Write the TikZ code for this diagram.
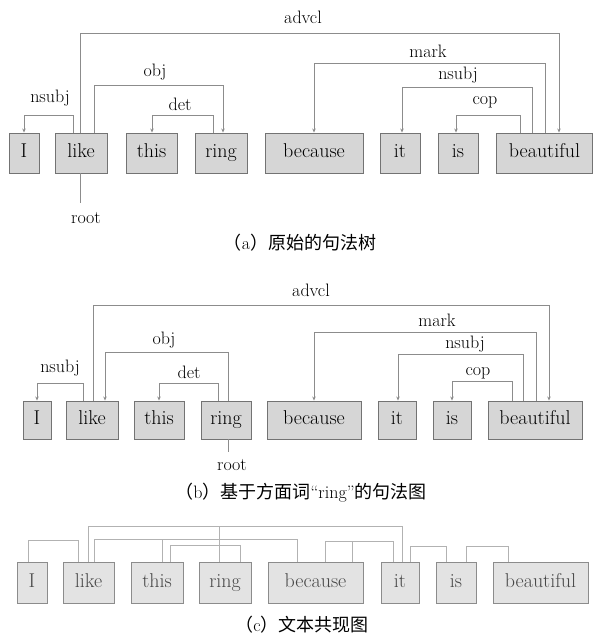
\documentclass[tikz,border=0pt]{standalone}
\usepackage{fontspec}
\newfontfamily\cjk{Noto Sans CJK SC}
\usetikzlibrary{arrows.meta}
\newcommand\depline[5]{\draw[arr] ([xshift=#2pt]#1.north) -- ++(0,-#3) -| ([xshift=#5pt]#4.north);}
\newcommand\coline[5]{\draw[cline] ([xshift=#2pt]#1.north) -- ++(0,-#3) -| ([xshift=#5pt]#4.north);}
\begin{document}
\begin{tikzpicture}[x=1pt,y=-1pt,
 wbox/.style={draw=black!55, line width=0.9pt, fill=black!16, inner sep=0pt,
   text height=13pt, text depth=4pt, font=\fontsize{20}{22}\selectfont},
 cbox/.style={wbox, draw=black!45, fill=black!11, text=black!72},
 lbl/.style={font=\fontsize{18}{20}\selectfont, inner sep=0pt},
 arr/.style={draw=black!45, line width=0.8pt, -{Stealth[length=4pt,width=3.5pt]}},
 plain/.style={draw=black!45, line width=0.8pt},
 cline/.style={draw=black!30, line width=0.8pt},
 captext/.style={font=\fontsize{18}{20}\selectfont, inner sep=0pt}]
\useasboundingbox[fill=white] (0,0) rectangle (594,637);

% ---------- (a) ----------
\node[wbox, minimum width=30pt, minimum height=40pt] (aI) at (24,153) {I};
\node[wbox, minimum width=52pt, minimum height=40pt] (aLike) at (81,153) {like};
\node[wbox, minimum width=51pt, minimum height=40pt] (aThis) at (151.5,153) {this};
\node[wbox, minimum width=52pt, minimum height=40pt] (aRing) at (221,153) {ring};
\node[wbox, minimum width=98pt, minimum height=40pt] (aBec) at (314,153) {because};
\node[wbox, minimum width=40pt, minimum height=40pt] (aIt) at (400,153) {it};
\node[wbox, minimum width=40pt, minimum height=40pt] (aIs) at (458,153) {is};
\node[wbox, minimum width=96pt, minimum height=40pt] (aBeau) at (544.5,153) {beautiful};

\depline{aLike}{-1}{99}{aBeau}{14.5}
\depline{aLike}{-8}{17}{aI}{0}
\depline{aLike}{13}{47}{aRing}{2}
\depline{aRing}{-8}{17}{aThis}{0.5}
\depline{aBeau}{0.5}{69}{aBec}{0}
\depline{aBeau}{-12.5}{45}{aIt}{2}
\depline{aBeau}{-24.5}{17}{aIs}{-2}
\coordinate (aRoot) at (80,203);
\draw[plain] ([xshift=-1pt]aLike.south) -- (aRoot);

\node[lbl] (aLadvcl) at (303,17) {advcl};
\node[lbl] (aLnsubj) at (50,98) {nsubj};
\node[lbl] (aLobj) at (155,72) {obj};
\node[lbl] (aLdet) at (180,104) {det};
\node[lbl] (aLmark) at (428,51) {mark};
\node[lbl] (aLnsubjb) at (458,75) {nsubj};
\node[lbl] (aLcop) at (485,102) {cop};
\node[lbl] (aLroot) at (86,218) {root};
\node[captext] (capA) at (300,243) {{\cjk （}a{\cjk ）原始的句法树}};

% ---------- (b) ----------
\node[wbox, minimum width=28pt, minimum height=38pt] (bI) at (37,420) {I};
\node[wbox, minimum width=52pt, minimum height=38pt] (bLike) at (92,420) {like};
\node[wbox, minimum width=50pt, minimum height=38pt] (bThis) at (159,420) {this};
\node[wbox, minimum width=50pt, minimum height=38pt] (bRing) at (226,420) {ring};
\node[wbox, minimum width=94pt, minimum height=38pt] (bBec) at (314,420) {because};
\node[wbox, minimum width=38pt, minimum height=38pt] (bIt) at (397,420) {it};
\node[wbox, minimum width=38pt, minimum height=38pt] (bIs) at (452,420) {is};
\node[wbox, minimum width=94pt, minimum height=38pt] (bBeau) at (535,420) {beautiful};

\depline{bLike}{1}{95}{bBeau}{14}
\depline{bRing}{2}{48}{bLike}{13}
\depline{bLike}{-9}{17}{bI}{0}
\depline{bRing}{-8}{17}{bThis}{0}
\depline{bBeau}{1}{68}{bBec}{0}
\depline{bBeau}{-12}{46}{bIt}{1}
\depline{bBeau}{-23}{19}{bIs}{0}
\coordinate (bRoot) at (228,452);
\draw[plain] ([xshift=2pt]bRing.south) -- (bRoot);

\node[lbl] (bLadvcl) at (311,290) {advcl};
\node[lbl] (bLobj) at (164,340) {obj};
\node[lbl] (bLnsubj) at (60,368) {nsubj};
\node[lbl] (bLdet) at (189,372) {det};
\node[lbl] (bLmark) at (437,320) {mark};
\node[lbl] (bLnsubjb) at (465,344) {nsubj};
\node[lbl] (bLcop) at (478,373) {cop};
\node[lbl] (bLroot) at (232,465) {root};
\node[captext] (capB) at (301,493) {{\cjk （}b{\cjk ）基于方面词}“ring”{\cjk 的句法图}};

% ---------- (c) ----------
\node[cbox, minimum width=30pt, minimum height=41pt] (cI) at (32,582.5) {I};
\node[cbox, minimum width=51pt, minimum height=41pt] (cLike) at (88.5,582.5) {like};
\node[cbox, minimum width=52pt, minimum height=41pt] (cThis) at (157,582.5) {this};
\node[cbox, minimum width=52pt, minimum height=41pt] (cRing) at (225,582.5) {ring};
\node[cbox, minimum width=95pt, minimum height=41pt] (cBec) at (315.5,582.5) {because};
\node[cbox, minimum width=38pt, minimum height=41pt] (cIt) at (400,582.5) {it};
\node[cbox, minimum width=40pt, minimum height=41pt] (cIs) at (456,582.5) {is};
\node[cbox, minimum width=95pt, minimum height=41pt] (cBeau) at (540.5,582.5) {beautiful};

\coline{cI}{-4}{21}{cLike}{-10.5}
\coline{cLike}{-0.5}{35}{cIt}{2}
\draw[cline] ([xshift=-6pt]cRing.north) -- ++(0,-35);
\coline{cLike}{5.5}{22}{cBec}{-18.5}
\draw[cline] ([xshift=5pt]cThis.north) -- ++(0,-22);
\coline{cThis}{13}{16}{cRing}{15}
\coline{cBec}{9.5}{20}{cIt}{-7}
\draw[cline] ([xshift=36.5pt]cBec.north) -- ++(0,-20);
\coline{cIt}{10}{15}{cIs}{-10}
\coline{cIs}{10}{15}{cBeau}{-32.5}

\node[captext] (capC) at (302,625) {{\cjk （}c{\cjk ）文本共现图}};
\end{tikzpicture}
\end{document}
